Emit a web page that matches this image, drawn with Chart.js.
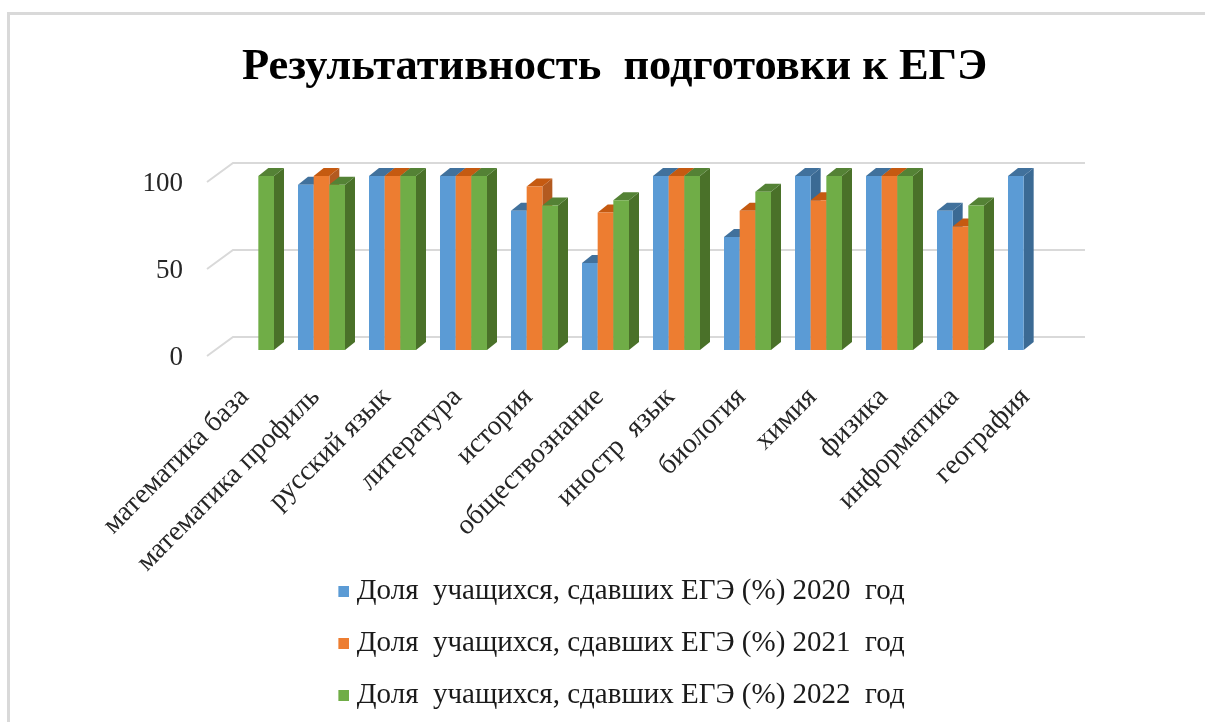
<!DOCTYPE html>
<html>
<head>
<meta charset="utf-8">
<script src="https://cdn.jsdelivr.net/npm/chart.js@4"></script>
<style>
    html, body { margin: 0; padding: 0; background: #fff; overflow: hidden; }
    #frame { position: absolute; left: 7px; top: 12px; right: 0; bottom: 0; border-top: 3px solid #d9d9d9; border-left: 3px solid #d9d9d9; }
    #wrap { position: absolute; left: 0; top: 0; width: 1205px; height: 722px; }
</style>
</head>
<body>
<div id="frame"></div>
<div id="wrap"><canvas id="chart"></canvas></div>
<script>
const categories = ['математика база', 'математика профиль', 'русский язык', 'литература', 'история', 'обществознание', 'иностр  язык', 'биология', 'химия', 'физика', 'информатика', 'география'];
const values2020 = [null, 95, 100, 100, 80, 50, 100, 65, 100, 100, 80, 100];
const values2021 = [null, 100, 100, 100, 94, 79, 100, 80, 86, 100, 71, null];
const values2022 = [100, 95, 100, 100, 83, 86, 100, 91, 100, 100, 83, null];
const seriesNames = ['Доля  учащихся, сдавших ЕГЭ (%) 2020  год', 'Доля  учащихся, сдавших ЕГЭ (%) 2021  год', 'Доля  учащихся, сдавших ЕГЭ (%) 2022  год'];
const chartTitle = 'Результативность  подготовки к ЕГЭ';

const serif = '"Liberation Serif", "Times New Roman", serif';
const faces = [
    { front: '#5b9bd5', side: '#3b6a94', top: '#41719c' },
    { front: '#ed7d31', side: '#b35a20', top: '#c55a11' },
    { front: '#70ad47', side: '#4a7129', top: '#548235' }
];

// fake 3d: the floor goes back by wallDx/wallDy, the bars stand partway in
const wallDx = 26, wallDy = 19;
const barDx = 8, barDy = 8;
const sideDx = 10, sideDy = 8;
const floorLift = 2; // y tick labels sit slightly under the slanted lines

// legend square sits closer to its text than chart.js allows, so the marker
// is an image with the square in its right part
function legendMarker(color) {
    const c = document.createElement('canvas');
    c.width = 25;
    c.height = 11;
    const g = c.getContext('2d');
    g.fillStyle = color;
    g.fillRect(14, 0, 11, 11);
    return c;
}

const box3d = {
    id: 'box3d',
    afterLayout(chart) {
        // title and legend are not centred on the plot in the original
        chart.titleBlock.left += 25;
        chart.titleBlock.right += 25;
        chart.legend.left += 28.5;
        chart.legend.right += 28.5;
        chart.legend.top += 10;
        chart.legend.bottom += 10;
        // long rotated labels run past the axis box, don't let them get clipped
        chart.scales.x.bottom = chart.height;
    },
    beforeDatasetsDraw(chart) {
        const { ctx, chartArea, scales } = chart;
        ctx.save();
        ctx.strokeStyle = '#d9d9d9';
        ctx.lineWidth = 2;
        scales.y.ticks.forEach(t => {
            const y = scales.y.getPixelForValue(t.value) - floorLift;
            ctx.beginPath();
            ctx.moveTo(chartArea.left, y);
            ctx.lineTo(chartArea.left + wallDx, y - wallDy);
            ctx.lineTo(chartArea.right + wallDx, y - wallDy);
            ctx.stroke();
        });
        ctx.restore();
    },
    beforeDatasetDraw() {
        return false; // bars are painted below, in series order
    },
    afterDatasetsDraw(chart) {
        const { ctx } = chart;
        ctx.save();
        ctx.translate(barDx, -barDy);
        chart.data.datasets.forEach((ds, i) => {
            const f = faces[i];
            chart.getDatasetMeta(i).data.forEach((bar, j) => {
                if (ds.data[j] === null) return;
                const { x, y, base, width } = bar.getProps(['x', 'y', 'base', 'width']);
                const r = x + width / 2, l = x - width / 2;
                ctx.fillStyle = f.side;
                ctx.beginPath();
                ctx.moveTo(r, y);
                ctx.lineTo(r + sideDx, y - sideDy);
                ctx.lineTo(r + sideDx, base - sideDy);
                ctx.lineTo(r, base);
                ctx.fill();
                ctx.fillStyle = f.top;
                ctx.beginPath();
                ctx.moveTo(l, y);
                ctx.lineTo(l + sideDx, y - sideDy);
                ctx.lineTo(r + sideDx, y - sideDy);
                ctx.lineTo(r, y);
                ctx.fill();
                bar.draw(ctx);
            });
        });
        ctx.restore();
    }
};

new Chart(document.getElementById('chart'), {
    type: 'bar',
    data: {
        labels: categories,
        datasets: [
            { label: seriesNames[0], data: values2020, backgroundColor: faces[0].front },
            { label: seriesNames[1], data: values2021, backgroundColor: faces[1].front },
            { label: seriesNames[2], data: values2022, backgroundColor: faces[2].front }
        ]
    },
    options: {
        responsive: true,
        maintainAspectRatio: false,
        animation: false,
        categoryPercentage: 0.662,
        barPercentage: 1,
        layout: { padding: { left: 120, right: 146, top: 0, bottom: 12 } },
        scales: {
            x: {
                grid: { display: false },
                border: { display: false },
                ticks: {
                    autoSkip: false,
                    minRotation: 45,
                    maxRotation: 45,
                    labelOffset: 2,
                    padding: 15,
                    color: '#262626',
                    font: { family: serif, size: 28 }
                },
                afterFit: s => { s.height = 186; }
            },
            y: {
                min: 0,
                max: 100,
                grid: { display: false },
                border: { display: false },
                ticks: {
                    stepSize: 50,
                    padding: 16,
                    color: '#262626',
                    font: { family: serif, size: 27 }
                },
                afterFit: s => { s.width = 87; }
            }
        },
        plugins: {
            title: {
                display: true,
                text: chartTitle,
                color: '#000',
                font: { family: serif, size: 44.5, weight: 'bold' },
                padding: { top: 41, bottom: 89.6 }
            },
            legend: {
                position: 'bottom',
                labels: {
                    color: '#1a1a1a',
                    usePointStyle: true,
                    boxWidth: 11,
                    boxHeight: 11,
                    padding: 23,
                    font: { family: serif, size: 29 },
                    generateLabels: chart => Chart.defaults.plugins.legend.labels.generateLabels(chart)
                        .map((item, i) => ({ ...item, pointStyle: legendMarker(faces[i].front) }))
                }
            },
            tooltip: { enabled: false }
        }
    },
    plugins: [box3d]
});
</script>
</body>
</html>
